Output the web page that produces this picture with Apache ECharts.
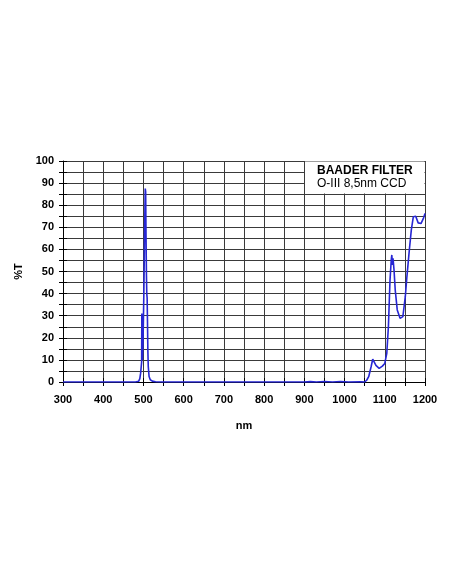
<!DOCTYPE html>
<html>
<head>
<meta charset="utf-8">
<script src="https://cdn.jsdelivr.net/npm/echarts@6/dist/echarts.min.js"></script>
<style>
html,body{margin:0;padding:0;background:#fff;}
#chart{width:452px;height:584px;}
</style>
</head>
<body>
<div id="chart"></div>
<script>
var wavelength = [300, 480, 488, 491, 493, 494.5, 495.5, 496, 496.7, 497.5, 499, 501, 503, 504.5, 505.5, 506.5, 507.5, 508.3, 509.2, 510, 511, 512, 514, 517, 522, 530, 545,
  900, 915, 930, 950, 970, 990, 1010, 1040, 1050, 1055, 1060, 1066, 1070, 1073, 1078, 1086, 1094, 1100, 1105, 1109, 1113, 1116, 1117.5, 1119, 1120.5, 1123, 1126, 1131, 1138, 1145, 1151, 1155, 1161, 1166, 1171, 1177, 1183, 1190, 1196, 1200];
var transmission = [0, 0, 0.3, 1.5, 4, 7, 9, 31, 12, 10, 18, 40, 70, 87.5, 86, 65, 48, 40, 38, 28, 14, 7, 2.5, 1, 0.4, 0.1, 0,
  0, 0.15, 0, 0.2, 0, 0.2, 0, 0.1, 0, 0.8, 2.4, 6.9, 10.3, 9.5, 7.5, 6.2, 7.2, 8.4, 13, 25, 46, 55, 57.5, 53, 56, 50.7, 41.6, 32.6, 28.8, 29.6, 38.6, 47.6, 59.7, 68.8, 74.8, 75, 72, 71.7, 74, 76.3];
var xTicks = [300, 400, 500, 600, 700, 800, 900, 1000, 1100, 1200];
var yTicks = [0, 10, 20, 30, 40, 50, 60, 70, 80, 90, 100];
var titleLines = ['BAADER FILTER', 'O-III 8,5nm CCD'];

var pts = wavelength.map(function (w, i) { return [w, transmission[i]]; });
var FONT = '"Liberation Sans", Arial, sans-serif';
var gridColor = '#3a3a3a';

var chart = echarts.init(document.getElementById('chart'), null, {renderer: 'canvas'});
chart.setOption({
  animation: false,
  backgroundColor: '#fff',
  grid: {left: 63, right: 27, top: 161, bottom: 202, containLabel: false},
  xAxis: [{
    type: 'value', min: 300, max: 1200, interval: 50,
    name: 'nm', nameLocation: 'middle', nameGap: 38,
    nameTextStyle: {fontFamily: FONT, fontSize: 11, fontWeight: 'bold', color: '#000'},
    axisLine: {show: true, lineStyle: {color: '#000', width: 1}},
    axisTick: {show: true, length: 4, lineStyle: {color: '#000', width: 1}},
    axisLabel: {fontFamily: FONT, fontSize: 11, fontWeight: 'bold', color: '#000', margin: 12,
      formatter: function (v) { return xTicks.indexOf(v) >= 0 ? String(v) : ''; }},
    splitLine: {show: true, lineStyle: {color: gridColor, width: 1}}
  }, {
    type: 'value', min: 300, max: 1200, interval: 50, position: 'bottom',
    axisLine: {show: false},
    axisTick: {show: true, inside: true, length: 4, lineStyle: {color: '#000', width: 1}},
    axisLabel: {show: false}, splitLine: {show: false}
  }],
  yAxis: [{
    type: 'value', min: 0, max: 100, interval: 5,
    name: '%T', nameLocation: 'middle', nameGap: 38, nameRotate: 90,
    nameTextStyle: {fontFamily: FONT, fontSize: 11, fontWeight: 'bold', color: '#000'},
    axisLine: {show: true, lineStyle: {color: '#000', width: 1}},
    axisTick: {show: true, length: 4, lineStyle: {color: '#000', width: 1}},
    axisLabel: {fontFamily: FONT, fontSize: 11, fontWeight: 'bold', color: '#000', margin: 9,
      formatter: function (v) { return yTicks.indexOf(v) >= 0 ? String(v) : ''; }},
    splitLine: {show: true, lineStyle: {color: gridColor, width: 1}}
  }, {
    type: 'value', min: 0, max: 100, interval: 5, position: 'left',
    axisLine: {show: false},
    axisTick: {show: true, inside: true, length: 4, lineStyle: {color: '#000', width: 1}},
    axisLabel: {show: false}, splitLine: {show: false}
  }],
  graphic: [{
    type: 'rect', z: 100,
    shape: {x: 305, y: 161.5, width: 119.5, height: 32},
    style: {fill: '#fff', stroke: null}
  }, {
    type: 'text', z: 101, left: 317, top: 165,
    style: {text: titleLines[0], font: 'bold 12px ' + FONT, fill: '#000'}
  }, {
    type: 'text', z: 101, left: 317, top: 178,
    style: {text: titleLines[1], font: '12px ' + FONT, fill: '#000'}
  }],
  series: [{
    type: 'line', data: pts, showSymbol: false, smooth: false,
    xAxisIndex: 0, yAxisIndex: 0, z: 5,
    lineStyle: {color: '#2626d4', width: 1.6}
  }]
});
</script>
</body>
</html>
